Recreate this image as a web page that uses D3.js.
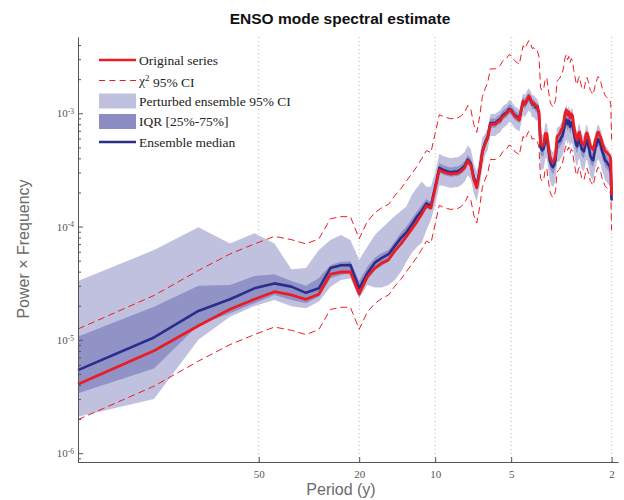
<!DOCTYPE html>
<html>
<head>
<meta charset="utf-8">
<script src="https://cdn.jsdelivr.net/npm/d3@7"></script>
<style>
  html, body { margin: 0; padding: 0; background: #fff; }
</style>
</head>
<body>
<div id="chart"></div>
<script>
// ENSO mode spectral estimate — D3
const W = 624, H = 500;
const M = { left: 78, right: 6, top: 37, bottom: 38 };

// frequency grid: k / 260 cycles per year, k = 1..130 (period 260 y down to 2 y)
const recordLength = 260;
const freq = d3.range(1, 131).map(k => k / recordLength);

// power x frequency (one value per frequency)
const original = [
  4.05e-6, 8.0e-6, 1.33e-5, 1.86e-5, 2.28e-5, 2.66e-5, 2.49e-5, 2.28e-5, 2.53e-5, 3.8e-5,
  3.97e-5, 3.97e-5, 2.54e-5, 3.6e-5, 4.3e-5, 4.77e-5, 5.1e-5, 6.1e-5, 7.0e-5, 8.2e-5,
  9.5e-5, 1.10e-4, 1.29e-4, 1.52e-4, 1.46e-4, 2.15e-4, 3.16e-4, 3.03e-4, 2.96e-4, 2.9e-4,
  2.94e-4, 2.96e-4, 3.09e-4, 3.3e-4, 3.8e-4, 3.5e-4, 2.58e-4, 2.2e-4, 3.03e-4, 4.55e-4,
  5.35e-4, 6.05e-4, 8.0e-4, 8.0e-4, 8.0e-4, 8.4e-4, 8.55e-4, 9.3e-4, 9.66e-4, 1.0e-3,
  1.07e-3, 1.05e-3, 9.87e-4, 9.3e-4, 9.1e-4, 8.73e-4, 1.07e-3, 1.28e-3, 1.21e-3, 1.31e-3,
  1.42e-3, 1.36e-3, 1.21e-3, 1.23e-3, 1.16e-3, 1.16e-3, 1.03e-3, 5.45e-4, 5.15e-4, 5.35e-4,
  6.6e-4, 6.6e-4, 5.25e-4, 4.2e-4, 3.87e-4, 3.7e-4, 3.87e-4, 4.28e-4, 6.2e-4, 6.43e-4,
  6.6e-4, 7.13e-4, 7.4e-4, 8.4e-4, 1.0e-3, 1.07e-3, 9.66e-4, 1.03e-3, 9.1e-4, 9.87e-4,
  9.5e-4, 7.88e-4, 6.85e-4, 6.05e-4, 5.81e-4, 6.6e-4, 6.85e-4, 6.05e-4, 5.45e-4, 5.35e-4,
  5.25e-4, 5.81e-4, 6.6e-4, 6.7e-4, 6.2e-4, 5.81e-4, 5.15e-4, 5.05e-4, 4.85e-4, 4.74e-4,
  5.25e-4, 5.81e-4, 6.05e-4, 6.6e-4, 6.85e-4, 6.6e-4, 6.3e-4, 6.05e-4, 5.55e-4, 5.25e-4,
  5.05e-4, 4.74e-4, 4.6e-4, 4.55e-4, 4.45e-4, 4.35e-4, 4.28e-4, 4.2e-4, 3.87e-4, 1.9e-4
];

const median = [
  5.4e-6, 1.05e-5, 1.8e-5, 2.28e-5, 2.85e-5, 3.15e-5, 2.95e-5, 2.6e-5, 2.85e-5, 4.3e-5,
  4.55e-5, 4.58e-5, 2.85e-5, 3.87e-5, 4.8e-5, 5.3e-5, 5.7e-5, 6.75e-5, 7.9e-5, 8.9e-5,
  1.04e-4, 1.22e-4, 1.38e-4, 1.6e-4, 1.52e-4, 2.24e-4, 3.3e-4, 3.16e-4, 3.08e-4, 3.02e-4,
  3.06e-4, 3.08e-4, 3.22e-4, 3.43e-4, 3.9e-4, 3.62e-4, 2.68e-4, 2.3e-4, 3.12e-4, 4.6e-4,
  5.5e-4, 6.2e-4, 8.2e-4, 8.2e-4, 8.2e-4, 8.6e-4, 8.8e-4, 9.5e-4, 9.9e-4, 1.02e-3,
  1.09e-3, 1.07e-3, 1.0e-3, 9.5e-4, 9.3e-4, 8.9e-4, 1.07e-3, 1.26e-3, 1.2e-3, 1.3e-3,
  1.38e-3, 1.32e-3, 1.2e-3, 1.2e-3, 1.13e-3, 1.12e-3, 1.0e-3, 5.0e-4, 4.7e-4, 4.9e-4,
  6.0e-4, 6.0e-4, 4.8e-4, 3.8e-4, 3.5e-4, 3.35e-4, 3.5e-4, 3.9e-4, 5.5e-4, 5.6e-4,
  5.7e-4, 6.1e-4, 6.3e-4, 7.0e-4, 8.2e-4, 8.8e-4, 8.0e-4, 8.6e-4, 7.6e-4, 8.3e-4,
  8.0e-4, 6.8e-4, 6.0e-4, 5.3e-4, 5.1e-4, 5.8e-4, 6.0e-4, 5.3e-4, 4.8e-4, 4.7e-4,
  4.6e-4, 5.1e-4, 5.8e-4, 5.8e-4, 5.2e-4, 4.8e-4, 4.2e-4, 4.05e-4, 3.9e-4, 3.85e-4,
  4.4e-4, 4.95e-4, 5.2e-4, 5.7e-4, 5.9e-4, 5.7e-4, 5.4e-4, 5.2e-4, 4.7e-4, 4.45e-4,
  4.25e-4, 3.95e-4, 3.8e-4, 3.75e-4, 3.65e-4, 3.55e-4, 3.45e-4, 3.35e-4, 3.05e-4, 1.7e-4
];

const iqrLow = [
  3.38e-6, 5.6e-6, 1.35e-5, 1.72e-5, 2.1e-5, 2.49e-5, 2.25e-5, 2.1e-5, 2.4e-5, 3.5e-5,
  3.74e-5, 3.87e-5, 2.4e-5, 3.38e-5, 4.14e-5, 4.5e-5, 4.9e-5, 6.0e-5, 7.0e-5, 7.95e-5,
  9.34e-5, 1.08e-4, 1.24e-4, 1.45e-4, 1.4e-4, 2.04e-4, 3.0e-4, 2.87e-4, 2.8e-4, 2.75e-4,
  2.78e-4, 2.8e-4, 2.93e-4, 3.12e-4, 3.55e-4, 3.29e-4, 2.44e-4, 2.09e-4, 2.84e-4, 4.18e-4,
  5.0e-4, 5.64e-4, 7.45e-4, 7.45e-4, 7.45e-4, 7.82e-4, 8.0e-4, 8.64e-4, 9.0e-4, 9.27e-4,
  9.9e-4, 9.73e-4, 9.1e-4, 8.64e-4, 8.45e-4, 8.1e-4, 9.73e-4, 1.15e-3, 1.09e-3, 1.18e-3,
  1.25e-3, 1.2e-3, 1.09e-3, 1.09e-3, 1.03e-3, 1.02e-3, 9.1e-4, 4.35e-4, 4.1e-4, 4.25e-4,
  5.2e-4, 5.2e-4, 4.2e-4, 3.3e-4, 3.05e-4, 2.9e-4, 3.05e-4, 3.4e-4, 4.8e-4, 4.85e-4,
  4.95e-4, 5.3e-4, 5.5e-4, 6.1e-4, 7.15e-4, 7.65e-4, 6.95e-4, 7.5e-4, 6.6e-4, 7.2e-4,
  6.95e-4, 5.9e-4, 5.2e-4, 4.6e-4, 4.45e-4, 5.05e-4, 5.2e-4, 4.6e-4, 4.2e-4, 4.1e-4,
  4.0e-4, 4.45e-4, 5.05e-4, 5.05e-4, 4.5e-4, 4.2e-4, 3.65e-4, 3.5e-4, 3.4e-4, 3.35e-4,
  3.8e-4, 4.3e-4, 4.5e-4, 4.95e-4, 5.15e-4, 4.95e-4, 4.7e-4, 4.5e-4, 4.1e-4, 3.85e-4,
  3.7e-4, 3.45e-4, 3.3e-4, 3.25e-4, 3.15e-4, 3.1e-4, 3.0e-4, 2.9e-4, 2.65e-4, 1.48e-4
];

const iqrHigh = [
  1.07e-5, 1.96e-5, 3.0e-5, 3.05e-5, 3.66e-5, 3.8e-5, 3.3e-5, 3.0e-5, 3.52e-5, 4.58e-5,
  4.9e-5, 4.93e-5, 3.3e-5, 4.42e-5, 5.3e-5, 5.85e-5, 6.2e-5, 7.4e-5, 8.8e-5, 1.0e-4,
  1.17e-4, 1.35e-4, 1.55e-4, 1.75e-4, 1.65e-4, 2.46e-4, 3.63e-4, 3.48e-4, 3.39e-4, 3.32e-4,
  3.37e-4, 3.39e-4, 3.54e-4, 3.77e-4, 4.29e-4, 3.98e-4, 2.95e-4, 2.53e-4, 3.43e-4, 5.06e-4,
  6.05e-4, 6.82e-4, 9.0e-4, 9.0e-4, 9.0e-4, 9.46e-4, 9.68e-4, 1.045e-3, 1.09e-3, 1.12e-3,
  1.2e-3, 1.18e-3, 1.1e-3, 1.045e-3, 1.02e-3, 9.8e-4, 1.18e-3, 1.39e-3, 1.32e-3, 1.43e-3,
  1.52e-3, 1.45e-3, 1.32e-3, 1.32e-3, 1.24e-3, 1.23e-3, 1.1e-3, 5.75e-4, 5.4e-4, 5.6e-4,
  6.9e-4, 6.9e-4, 5.5e-4, 4.4e-4, 4.0e-4, 3.85e-4, 4.0e-4, 4.5e-4, 6.3e-4, 6.45e-4,
  6.55e-4, 7.0e-4, 7.25e-4, 8.05e-4, 9.4e-4, 1.01e-3, 9.2e-4, 9.9e-4, 8.75e-4, 9.55e-4,
  9.2e-4, 7.8e-4, 6.9e-4, 6.1e-4, 5.85e-4, 6.65e-4, 6.9e-4, 6.1e-4, 5.5e-4, 5.4e-4,
  5.3e-4, 5.85e-4, 6.65e-4, 6.65e-4, 6.0e-4, 5.5e-4, 4.85e-4, 4.65e-4, 4.5e-4, 4.45e-4,
  5.05e-4, 5.7e-4, 6.0e-4, 6.55e-4, 6.8e-4, 6.55e-4, 6.2e-4, 6.0e-4, 5.4e-4, 5.1e-4,
  4.9e-4, 4.55e-4, 4.35e-4, 4.3e-4, 4.2e-4, 4.1e-4, 3.95e-4, 3.85e-4, 3.5e-4, 1.95e-4
];

const ens95Low = [
  2.1e-6, 3.0e-6, 1.0e-5, 1.6e-5, 1.99e-5, 2.25e-5, 1.98e-5, 1.9e-5, 2.18e-5, 2.95e-5,
  3.38e-5, 3.5e-5, 2.33e-5, 3.05e-5, 2.9e-5, 2.9e-5, 3.05e-5, 3.38e-5, 3.97e-5, 4.9e-5,
  5.84e-5, 6.6e-5, 7.2e-5, 9.3e-5, 1.14e-4, 1.55e-4, 2.3e-4, 2.29e-4, 2.23e-4, 2.19e-4,
  2.22e-4, 2.23e-4, 2.33e-4, 2.49e-4, 2.83e-4, 2.62e-4, 1.94e-4, 1.67e-4, 2.26e-4, 3.33e-4,
  4.23e-4, 4.77e-4, 6.3e-4, 6.3e-4, 6.3e-4, 6.6e-4, 6.77e-4, 7.3e-4, 7.6e-4, 7.85e-4,
  8.4e-4, 8.2e-4, 7.7e-4, 7.3e-4, 7.15e-4, 6.85e-4, 8.2e-4, 9.7e-4, 9.2e-4, 1.0e-3,
  1.06e-3, 1.02e-3, 9.2e-4, 9.2e-4, 8.7e-4, 8.6e-4, 7.7e-4, 3.33e-4, 3.13e-4, 3.27e-4,
  4.0e-4, 4.0e-4, 3.2e-4, 2.53e-4, 2.33e-4, 2.23e-4, 2.33e-4, 2.6e-4, 3.67e-4, 3.73e-4,
  3.8e-4, 4.07e-4, 4.2e-4, 4.67e-4, 5.47e-4, 5.87e-4, 5.33e-4, 5.73e-4, 5.07e-4, 5.53e-4,
  5.33e-4, 4.53e-4, 4.0e-4, 3.53e-4, 3.4e-4, 3.87e-4, 4.0e-4, 3.53e-4, 3.2e-4, 3.13e-4,
  3.07e-4, 3.4e-4, 3.87e-4, 3.87e-4, 3.47e-4, 3.2e-4, 2.8e-4, 2.7e-4, 2.6e-4, 2.57e-4,
  2.93e-4, 3.3e-4, 3.47e-4, 3.8e-4, 3.93e-4, 3.8e-4, 3.6e-4, 3.47e-4, 3.13e-4, 2.97e-4,
  2.83e-4, 2.63e-4, 2.53e-4, 2.5e-4, 2.43e-4, 2.37e-4, 2.3e-4, 2.23e-4, 2.03e-4, 1.13e-4
];

const ens95High = [
  3.31e-5, 6.2e-5, 9.85e-5, 7.1e-5, 8.75e-5, 7.1e-5, 4.2e-5, 4.3e-5, 6.21e-5, 7.62e-5,
  8.43e-5, 7.62e-5, 5.07e-5, 6.65e-5, 8.43e-5, 9.7e-5, 1.1e-4, 1.24e-4, 1.37e-4, 1.5e-4,
  1.9e-4, 2.2e-4, 2.5e-4, 2.25e-4, 2.25e-4, 3.0e-4, 4.4e-4, 4.2e-4, 4.1e-4, 4.0e-4,
  4.07e-4, 4.1e-4, 4.28e-4, 4.56e-4, 5.2e-4, 4.8e-4, 3.56e-4, 3.06e-4, 4.15e-4, 6.1e-4,
  6.6e-4, 7.44e-4, 9.84e-4, 9.84e-4, 9.84e-4, 1.03e-3, 1.06e-3, 1.14e-3, 1.19e-3, 1.22e-3,
  1.31e-3, 1.28e-3, 1.2e-3, 1.14e-3, 1.12e-3, 1.07e-3, 1.28e-3, 1.51e-3, 1.44e-3, 1.56e-3,
  1.66e-3, 1.58e-3, 1.44e-3, 1.44e-3, 1.36e-3, 1.34e-3, 1.2e-3, 6.75e-4, 6.35e-4, 6.6e-4,
  8.1e-4, 8.1e-4, 6.5e-4, 5.13e-4, 4.73e-4, 4.52e-4, 4.73e-4, 5.27e-4, 7.4e-4, 7.56e-4,
  7.7e-4, 8.2e-4, 8.5e-4, 9.45e-4, 1.11e-3, 1.19e-3, 1.08e-3, 1.16e-3, 1.03e-3, 1.12e-3,
  1.08e-3, 9.2e-4, 8.1e-4, 7.15e-4, 6.9e-4, 7.83e-4, 8.1e-4, 7.15e-4, 6.5e-4, 6.35e-4,
  6.2e-4, 6.9e-4, 7.83e-4, 7.83e-4, 7.0e-4, 6.5e-4, 5.67e-4, 5.47e-4, 5.27e-4, 5.2e-4,
  5.94e-4, 6.68e-4, 7.0e-4, 7.7e-4, 7.97e-4, 7.7e-4, 7.3e-4, 7.0e-4, 6.35e-4, 6.0e-4,
  5.74e-4, 5.33e-4, 5.13e-4, 5.06e-4, 4.93e-4, 4.8e-4, 4.66e-4, 4.52e-4, 4.12e-4, 2.3e-4
];

// chi-square 95% interval as multiplicative factors on the original estimate (nu = 10)
const chi2Low = 0.488;
const chi2High = 3.08;

const periodTicks = [50, 20, 10, 5, 2];
const powerDecades = [-6, -5, -4, -3];

const legendItems = [
  { label: 'Original series', kind: 'line', color: '#ec1c24', width: 2.6 },
  { label: 'chi2', kind: 'dash', color: '#ec1c24', width: 1 },
  { label: 'Perturbed ensemble 95% CI', kind: 'rect', color: '#c0c1df' },
  { label: 'IQR [25%-75%]', kind: 'rect', color: '#8a8cc2' },
  { label: 'Ensemble median', kind: 'line', color: '#2b2d8c', width: 2.6 }
];

const RED = '#ec1c24', NAVY = '#2b2d8c', LIGHT = '#c0c1df', MID = '#9193c7';
const AXIS = '#555';
const SERIF = '"Liberation Serif", "Times New Roman", serif';
const SANS = '"Liberation Sans", Arial, Helvetica, sans-serif';

const x = d3.scaleLog()
  .domain([1 / recordLength, 0.53])
  .range([M.left, W - M.right]);
const y = d3.scaleLog()
  .domain([Math.pow(10, -6.078), Math.pow(10, -2.327)])
  .range([H - M.bottom, M.top]);

const svg = d3.select('#chart')
  .append('svg')
  .attr('width', W)
  .attr('height', H)
  .style('display', 'block');

// dotted period gridlines
svg.append('g')
  .selectAll('line')
  .data(periodTicks)
  .join('line')
  .attr('x1', d => x(1 / d)).attr('x2', d => x(1 / d))
  .attr('y1', M.top).attr('y2', H - M.bottom)
  .attr('stroke', '#b5b5b5')
  .attr('stroke-width', 1)
  .attr('stroke-dasharray', '1,3');

const rows = freq.map((f, i) => ({
  f: f,
  orig: original[i],
  med: median[i],
  q1: iqrLow[i], q3: iqrHigh[i],
  lo: ens95Low[i], hi: ens95High[i]
}));

// bands
svg.append('path')
  .datum(rows)
  .attr('fill', LIGHT)
  .attr('d', d3.area().x(d => x(d.f)).y0(d => y(d.lo)).y1(d => y(d.hi)));

svg.append('path')
  .datum(rows)
  .attr('fill', MID)
  .attr('d', d3.area().x(d => x(d.f)).y0(d => y(d.q1)).y1(d => y(d.q3)));

// chi-square CI
['lower', 'upper'].forEach(function(side) {
  const fac = side === 'lower' ? chi2Low : chi2High;
  svg.append('path')
    .datum(rows)
    .attr('fill', 'none')
    .attr('stroke', RED)
    .attr('stroke-width', 1)
    .attr('stroke-dasharray', '7,4')
    .attr('d', d3.line().x(d => x(d.f)).y(d => y(d.orig * fac)));
});

// median and original series
svg.append('path')
  .datum(rows)
  .attr('fill', 'none')
  .attr('stroke', NAVY)
  .attr('stroke-width', 2.6)
  .attr('stroke-linejoin', 'round')
  .attr('d', d3.line().x(d => x(d.f)).y(d => y(d.med)));

svg.append('path')
  .datum(rows)
  .attr('fill', 'none')
  .attr('stroke', RED)
  .attr('stroke-width', 2.8)
  .attr('stroke-linejoin', 'round')
  .attr('d', d3.line().x(d => x(d.f)).y(d => y(d.orig)));

// x axis (period labels on a frequency scale)
svg.append('g')
  .attr('transform', 'translate(0,' + (H - M.bottom) + ')')
  .call(d3.axisBottom(x)
    .tickValues(periodTicks.map(p => 1 / p))
    .tickFormat(d => String(Math.round(1 / d)))
    .tickSizeInner(-5)
    .tickSizeOuter(0)
    .tickPadding(8));

// y axis: minor ticks, then majors with labels
const minorVals = [];
d3.range(-7, -2).forEach(function(e) {
  for (let m = 2; m <= 9; m++) minorVals.push(m * Math.pow(10, e));
});
const yDom = y.domain();
svg.append('g')
  .attr('transform', 'translate(' + M.left + ',0)')
  .call(d3.axisLeft(y)
    .tickValues(minorVals.filter(v => v > yDom[0] && v < yDom[1]))
    .tickFormat('')
    .tickSizeInner(-3)
    .tickSizeOuter(0));

const yAxis = svg.append('g')
  .attr('transform', 'translate(' + M.left + ',0)')
  .call(d3.axisLeft(y)
    .tickValues(powerDecades.map(e => Math.pow(10, e)))
    .tickSizeInner(-5)
    .tickSizeOuter(0)
    .tickPadding(4));

yAxis.selectAll('.tick text').each(function(d) {
  const t = d3.select(this).text(null);
  t.append('tspan').text('10');
  t.append('tspan')
    .attr('dy', '-0.45em')
    .attr('font-size', 7.5)
    .text(String(Math.round(Math.log10(d))));
});

svg.selectAll('.domain').attr('stroke', AXIS);
svg.selectAll('.tick line').attr('stroke', AXIS);
svg.selectAll('.tick text')
  .attr('fill', '#555')
  .attr('font-family', SERIF)
  .attr('font-size', 11);

// titles
svg.append('text')
  .attr('x', 340).attr('y', 24)
  .attr('text-anchor', 'middle')
  .attr('font-family', SANS)
  .attr('font-weight', 'bold')
  .attr('font-size', 15.5)
  .attr('fill', '#111')
  .text('ENSO mode spectral estimate');

svg.append('text')
  .attr('x', 341).attr('y', 495)
  .attr('text-anchor', 'middle')
  .attr('font-family', SANS)
  .attr('font-size', 16)
  .attr('fill', '#6a6a6a')
  .text('Period (y)');

svg.append('text')
  .attr('transform', 'translate(29,249) rotate(-90)')
  .attr('text-anchor', 'middle')
  .attr('font-family', SANS)
  .attr('font-size', 16)
  .attr('fill', '#6a6a6a')
  .text('Power \u00d7 Frequency');

// legend
const legend = svg.append('g').attr('transform', 'translate(99,60)');
legendItems.forEach(function(item, i) {
  const g = legend.append('g').attr('transform', 'translate(0,' + (i * 20.5) + ')');
  if (item.kind === 'rect') {
    g.append('rect')
      .attr('x', 0).attr('y', -7.5)
      .attr('width', 37).attr('height', 15)
      .attr('fill', item.color);
  } else {
    g.append('line')
      .attr('x1', 0).attr('x2', 37)
      .attr('y1', 0).attr('y2', 0)
      .attr('stroke', item.color)
      .attr('stroke-width', item.width)
      .attr('stroke-dasharray', item.kind === 'dash' ? '6,4.33' : null);
  }
  const t = g.append('text')
    .attr('x', 40).attr('y', 4.5)
    .attr('font-family', SERIF)
    .attr('font-size', 13.5)
    .attr('fill', '#222');
  if (item.label === 'chi2') {
    t.append('tspan').text('\u03c7');
    t.append('tspan').attr('dy', '-0.45em').attr('font-size', 9).text('2');
    t.append('tspan').attr('dy', '0.45em').text(' 95% CI');
  } else {
    t.text(item.label);
  }
});
</script>
</body>
</html>
